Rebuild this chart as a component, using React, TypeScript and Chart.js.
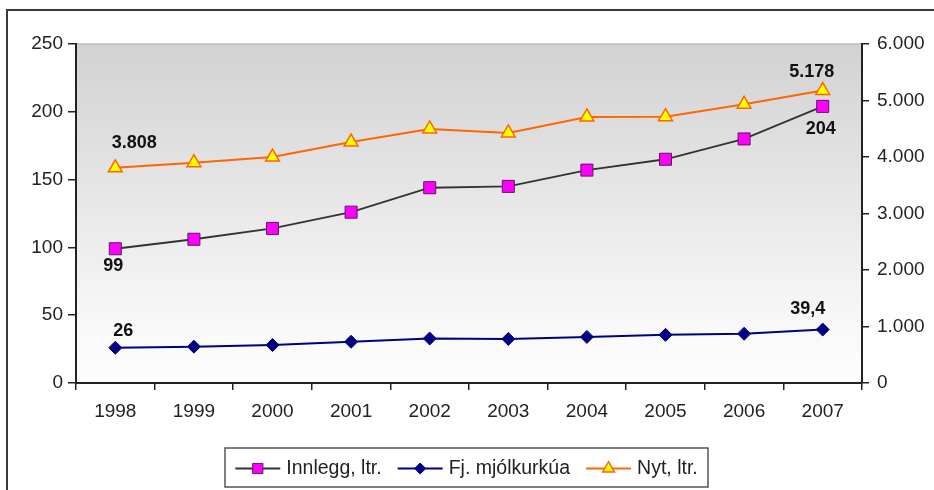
import React, { useEffect, useRef } from 'react';
import { Chart, registerables } from 'chart.js';

Chart.register(...registerables);

const years = ['1998', '1999', '2000', '2001', '2002', '2003', '2004', '2005', '2006', '2007'];
const innlegg = [99, 106, 114, 126, 144, 145, 157, 165, 180, 204];
const fjKyr = [26, 26.8, 28, 30.4, 32.8, 32.5, 34, 35.5, 36.3, 39.4];
const nyt = [3808, 3900, 4000, 4265, 4496, 4425, 4708, 4713, 4933, 5178];
const leftTicks = [0, 50, 100, 150, 200, 250];
const rightTicks = [0, 1000, 2000, 3000, 4000, 5000, 6000];
const seriesNames = ['Innlegg, ltr.', 'Fj. mjólkurkúa', 'Nyt, ltr.'];

const FONT = "'Liberation Sans', Arial, sans-serif";

const fmtNum = (v: number) => {
  const [i, d] = String(v).split('.');
  const ii = i.replace(/\B(?=(\d{3})+(?!\d))/g, '.');
  return d ? ii + ',' + d : ii;
};

// which point gets a value label, and where (style, not data)
const labelSpots = [
  { ds: 2, idx: 0, dx: 19, dy: -25 },
  { ds: 0, idx: 0, dx: -2, dy: 17 },
  { ds: 1, idx: 0, dx: 8, dy: -17 },
  { ds: 2, idx: 9, dx: -11, dy: -18 },
  { ds: 0, idx: 9, dx: -2, dy: 23 },
  { ds: 1, idx: 9, dx: -15, dy: -21 },
];

const bgPlugin = {
  id: 'bgPlugin',
  beforeDraw(chart: any) {
    const { ctx, chartArea, width, height } = chart;
    ctx.save();
    ctx.fillStyle = '#ffffff';
    ctx.fillRect(0, 0, width, height);
    // outer frame
    ctx.strokeStyle = '#3a3a3a';
    ctx.lineWidth = 2;
    ctx.beginPath();
    ctx.moveTo(7, height + 2);
    ctx.lineTo(7, 10);
    ctx.lineTo(width + 2, 10);
    ctx.stroke();
    // plot gradient
    const g = ctx.createLinearGradient(0, chartArea.top, 0, chartArea.bottom);
    g.addColorStop(0, '#d2d2d2');
    g.addColorStop(0.85, '#f9f9f9');
    g.addColorStop(1, '#fdfdfd');
    ctx.fillStyle = g;
    ctx.fillRect(chartArea.left, chartArea.top, chartArea.right - chartArea.left, chartArea.bottom - chartArea.top);
    ctx.strokeStyle = '#bdbdbd';
    ctx.lineWidth = 1.5;
    ctx.beginPath();
    ctx.moveTo(chartArea.left, chartArea.top);
    ctx.lineTo(chartArea.right, chartArea.top);
    ctx.stroke();
    ctx.restore();
  },
};

const labelPlugin = {
  id: 'labelPlugin',
  afterDatasetsDraw(chart: any) {
    const { ctx } = chart;
    ctx.save();
    ctx.font = `bold 18px ${FONT}`;
    ctx.fillStyle = '#111';
    ctx.textAlign = 'center';
    ctx.textBaseline = 'middle';
    labelSpots.forEach((s) => {
      const meta = chart.getDatasetMeta(s.ds);
      const el = meta.data[s.idx];
      const v = chart.data.datasets[s.ds].data[s.idx];
      ctx.fillText(fmtNum(v), el.x + s.dx, el.y + s.dy);
    });
    ctx.restore();
  },
};

const drawMarker = (ctx: any, style: string, x: number, y: number, r: number, fill: string, stroke: string, lw: number) => {
  ctx.save();
  ctx.fillStyle = fill;
  ctx.strokeStyle = stroke;
  ctx.lineWidth = lw;
  ctx.beginPath();
  if (style === 'rect') {
    const s = r * Math.SQRT1_2;
    ctx.rect(x - s, y - s, 2 * s, 2 * s);
  } else if (style === 'rectRot') {
    ctx.moveTo(x, y - r);
    ctx.lineTo(x + r, y);
    ctx.lineTo(x, y + r);
    ctx.lineTo(x - r, y);
    ctx.closePath();
  } else {
    ctx.moveTo(x, y - r);
    ctx.lineTo(x + r * 0.866, y + r * 0.5);
    ctx.lineTo(x - r * 0.866, y + r * 0.5);
    ctx.closePath();
  }
  ctx.fill();
  ctx.stroke();
  ctx.restore();
};

const legendPlugin = {
  id: 'legendPlugin',
  afterDraw(chart: any) {
    const { ctx } = chart;
    const box = { l: 225, t: 448, r: 708, b: 487 };
    ctx.save();
    ctx.fillStyle = '#ffffff';
    ctx.fillRect(box.l, box.t, box.r - box.l, box.b - box.t);
    ctx.strokeStyle = '#555';
    ctx.lineWidth = 1.5;
    ctx.strokeRect(box.l, box.t, box.r - box.l, box.b - box.t);
    ctx.font = `19.5px ${FONT}`;
    ctx.textBaseline = 'middle';
    ctx.textAlign = 'left';
    const lineW = 45;
    const gapT = 6;
    const gapI = 16;
    const ds = chart.data.datasets;
    const widths = ds.map((d: any) => ctx.measureText(d.label).width);
    const total = widths.reduce((a: number, b: number) => a + b, 0) + ds.length * (lineW + gapT) + (ds.length - 1) * gapI;
    let x = (box.l + box.r) / 2 - total / 2;
    const y = (box.t + box.b) / 2 + 1;
    ds.forEach((d: any, i: number) => {
      ctx.strokeStyle = d.borderColor;
      ctx.lineWidth = d.borderWidth;
      ctx.beginPath();
      ctx.moveTo(x, y);
      ctx.lineTo(x + lineW, y);
      ctx.stroke();
      drawMarker(ctx, d.pointStyle, x + lineW / 2, y, d.pointRadius * 0.85, d.pointBackgroundColor, d.pointBorderColor, d.pointBorderWidth);
      x += lineW + gapT;
      ctx.fillStyle = '#222';
      ctx.fillText(d.label, x, y);
      x += widths[i] + gapI;
    });
    ctx.restore();
  },
};

export default function App() {
  const ref = useRef<HTMLCanvasElement | null>(null);
  useEffect(() => {
    document.body.style.margin = '0';
    const canvas = ref.current!;
    const tickFont = { family: FONT, size: 19 };
    const chart = new Chart(canvas, {
      type: 'line',
      data: {
        labels: years,
        datasets: [
          {
            label: seriesNames[0],
            data: innlegg,
            yAxisID: 'y',
            borderColor: '#333333',
            borderWidth: 1.8,
            pointStyle: 'rect',
            pointRadius: 8.5,
            pointBackgroundColor: '#ff00ff',
            pointBorderColor: '#5a1a5a',
            pointBorderWidth: 1,
            tension: 0,
          },
          {
            label: seriesNames[1],
            data: fjKyr,
            yAxisID: 'y',
            borderColor: '#000080',
            borderWidth: 2,
            pointStyle: 'rectRot',
            pointRadius: 6.5,
            pointBackgroundColor: '#000080',
            pointBorderColor: '#000080',
            pointBorderWidth: 1,
            tension: 0,
          },
          {
            label: seriesNames[2],
            data: nyt,
            yAxisID: 'y1',
            borderColor: '#ff6600',
            borderWidth: 2,
            pointStyle: 'triangle',
            pointRadius: 8,
            pointBackgroundColor: '#ffff00',
            pointBorderColor: '#ff6600',
            pointBorderWidth: 1.5,
            tension: 0,
          },
        ] as any,
      },
      options: {
        responsive: false,
        animation: false,
        layout: { padding: { top: 44, bottom: 0, left: 0, right: 0 } },
        plugins: { legend: { display: false }, tooltip: { enabled: false } },
        scales: {
          x: {
            type: 'category',
            offset: true,
            grid: { offset: true, drawOnChartArea: false, drawTicks: true, tickLength: 7, color: '#222', lineWidth: 1.5 },
            border: { color: '#222', width: 2 },
            ticks: { color: '#222', font: tickFont, padding: 10, maxRotation: 0, autoSkip: false },
            afterFit: (s: any) => { s.height = 107; },
          },
          y: {
            position: 'left',
            min: 0,
            max: 250,
            afterBuildTicks: (s: any) => { s.ticks = leftTicks.map((v) => ({ value: v })); },
            grid: { drawOnChartArea: false, drawTicks: true, tickLength: 8, color: '#222', lineWidth: 1.5 },
            border: { color: '#222', width: 2 },
            ticks: { color: '#222', font: tickFont, padding: 5, callback: (v: any) => fmtNum(Number(v)) },
            afterFit: (s: any) => { s.width = 76; },
          },
          y1: {
            position: 'right',
            min: 0,
            max: 6000,
            afterBuildTicks: (s: any) => { s.ticks = rightTicks.map((v) => ({ value: v })); },
            grid: { drawOnChartArea: false, drawTicks: true, tickLength: 7, color: '#222', lineWidth: 1.5 },
            border: { color: '#222', width: 2 },
            ticks: { color: '#222', font: tickFont, padding: 8, callback: (v: any) => fmtNum(Number(v)) },
            afterFit: (s: any) => { s.width = 72; },
          },
        },
      } as any,
      plugins: [bgPlugin, labelPlugin, legendPlugin],
    });
    return () => chart.destroy();
  }, []);
  return <canvas ref={ref} width={934} height={490} style={{ display: 'block' }} />;
}
